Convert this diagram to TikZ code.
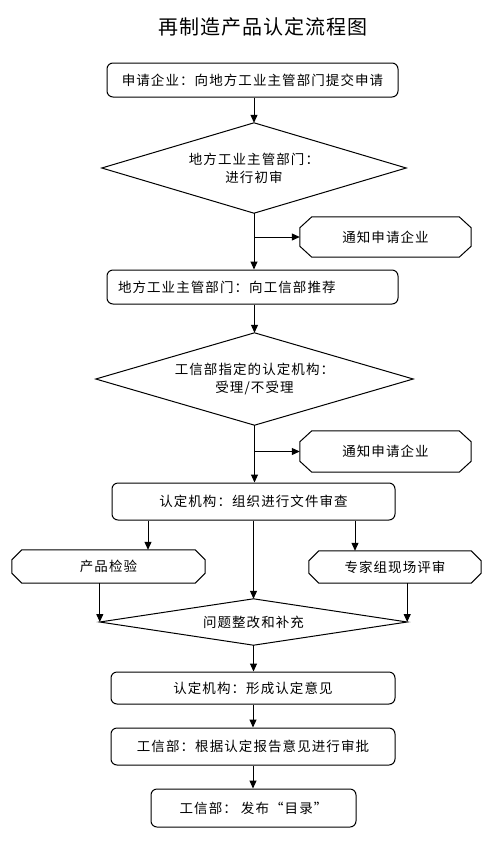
\documentclass[tikz,border=0pt]{standalone}
\usepackage{fontspec}
\usetikzlibrary{arrows.meta}
\newfontfamily\cjk[LetterSpace=8]{Noto Sans CJK SC}
\newfontfamily\cjktitle[LetterSpace=5]{Noto Sans CJK SC}
\newcommand\octpath[3]{%
  \draw[line] ([xshift=#2]#1.north west) -- ([xshift=-#2]#1.north east) -- ([yshift=-#3]#1.north east) -- ([yshift=#3]#1.south east) -- ([xshift=-#2]#1.south east) -- ([xshift=#2]#1.south west) -- ([yshift=#3]#1.south west) -- ([yshift=-#3]#1.north west) -- cycle;}
\newcommand\diapath[1]{%
  \draw[line] (#1.north) -- (#1.east) -- (#1.south) -- (#1.west) -- cycle;}
\tikzset{
  txt/.style={inner sep=0pt, align=center, font=\cjk\fontsize{13.5}{18}\selectfont},
  box/.style={txt, draw, rounded corners=6pt, line width=1pt},
  line/.style={line width=1pt},
  arr/.style={line width=1pt, -{Triangle[length=8pt,width=7pt]}},
}
\begin{document}
\begin{tikzpicture}[x=1pt,y=-1pt]
\useasboundingbox (0,0) rectangle (491,847);
\node[font=\cjktitle\fontsize{20}{24}\selectfont, inner sep=0pt] (title) at (262.5,27) {再制造产品认定流程图};

\node[box, minimum width=291, minimum height=34] (b1) at (252.5,80) {申请企业：向地方工业主管部门提交申请};

\node[txt, minimum width=304, minimum height=90] (d1) at (254,168) {地方工业主管部门：\\进行初审};
\diapath{d1}

\node[txt, minimum width=171, minimum height=40] (o1) at (385.5,237) {通知申请企业};
\octpath{o1}{12pt}{11pt}

\node[box, minimum height=34, text width=269, inner xsep=11pt, align=left] (b2) at (252.5,287) {地方工业主管部门：向工信部推荐};

\node[txt, minimum width=317, minimum height=92] (d2) at (254.5,379) {工信部指定的认定机构：\\受理/不受理};
\diapath{d2}

\node[txt, minimum width=171, minimum height=41] (o2) at (385.5,451.5) {通知申请企业};
\octpath{o2}{12pt}{11pt}

\node[box, minimum width=283, minimum height=37] (b3) at (253.5,501.5) {认定机构：组织进行文件审查};

\node[txt, minimum width=193, minimum height=33] (o3) at (108.5,566.5) {产品检验};
\octpath{o3}{10pt}{10pt}

\node[txt, minimum width=172, minimum height=32] (o4) at (395,567) {专家组现场评审};
\octpath{o4}{10pt}{10pt}

\node[txt, minimum width=307, minimum height=46] (d3) at (253.5,622) {问题整改和补充};
\diapath{d3}

\node[box, minimum width=284, minimum height=32] (b4) at (253,688) {认定机构：形成认定意见};
\node[box, minimum width=284, minimum height=37] (b5) at (253,746.5) {工信部：根据认定报告意见进行审批};
\node[box, minimum width=205, minimum height=38] (b6) at (253.5,808) {工信部：\ 发布“目录”};

\coordinate (xl) at (148,0);
\coordinate (xr) at (355,0);

\draw[arr] (b1.south -| d1.north) -- (d1.north);
\draw[arr] (d1.south) -- (b2.north -| d1.south);
\draw[arr] (d1.south |- o1.west) -- (o1.west);
\draw[arr] (b2.south -| d2.north) -- (d2.north);
\draw[arr] (d2.south) -- (b3.north -| d2.south);
\draw[arr] (d2.south |- o2.west) -- (o2.west);
\draw[arr] (b3.south -| xl) -- (o3.north -| xl);
\draw[arr] (b3.south -| xr) -- (o4.north -| xr);
\draw[arr] (b3.south -| d3.north) -- (d3.north);
\draw[arr] (o3.south -| d3.west) -- (d3.west);
\draw[arr] (o4.south -| d3.east) -- (d3.east);
\draw[arr] (d3.south) -- (b4.north -| d3.south);
\draw[arr] (b4.south) -- (b5.north);
\draw[arr] (b5.south) -- (b6.north -| b5.south);
\end{tikzpicture}
\end{document}
